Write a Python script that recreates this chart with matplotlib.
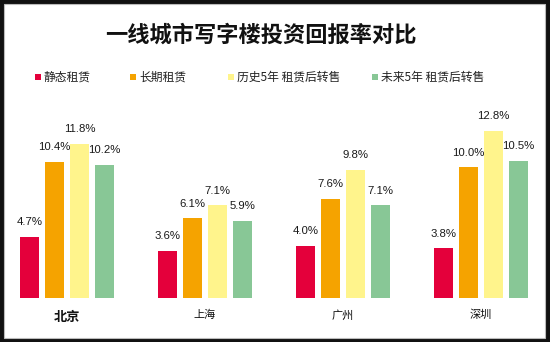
import numpy as np
import matplotlib
matplotlib.use('Agg')
import matplotlib.pyplot as plt
from matplotlib.patches import Rectangle

plt.rcParams['font.family'] = ['Noto Sans CJK SC', 'DejaVu Sans']

cities = ['北京', '上海', '广州', '深圳']
series = ['静态租赁', '长期租赁', '历史5年 租赁后转售', '未来5年 租赁后转售']
static_rent = [4.7, 3.6, 4.0, 3.8]
long_rent = [10.4, 6.1, 7.6, 10.0]
hist_5y = [11.8, 7.1, 9.8, 12.8]
future_5y = [10.2, 5.9, 7.1, 10.5]
values = [static_rent, long_rent, hist_5y, future_5y]
colors = ['#e4003b', '#f5a300', '#fff48c', '#88c796']

# canvas in pixels
W, H = 550, 342
fig = plt.figure(figsize=(W / 100, H / 100), dpi=100)
fig.patch.set_facecolor('#111111')
fig.patches.append(Rectangle((4 / W, 4 / H), 541 / W, 334 / H,
                             transform=fig.transFigure, facecolor='white',
                             edgecolor='#bbbbbb', linewidth=0.8, zorder=-5))

fig.text(261 / W, 1 - 35 / H, '一线城市写字楼投资回报率对比',
         ha='center', va='center', fontsize=16, fontweight='heavy',
         color='#111111')

# legend row
leg_x = [38, 133, 231, 375]
for x, lab, c in zip(leg_x, series, colors):
    fig.patches.append(Rectangle(((x - 3) / W, 1 - 80 / H), 6 / W, 6 / H,
                                 transform=fig.transFigure, facecolor=c,
                                 edgecolor='none'))
    fig.text((x + 6) / W, 1 - 77 / H, lab, ha='left', va='center',
             fontsize=8.5, color='#222222')

# bar area: x from 4 to 545 px, y from 100 to 298 px (from top)
ax = fig.add_axes([4 / W, (H - 298) / H, 541 / W, 198 / H])
ax.set_facecolor('none')
px_per_unit = 138.0
ax.set_xlim((4 - 67) / px_per_unit, (545 - 67) / px_per_unit)
ax.set_ylim(0, 198 / 13.07)

x = np.arange(len(cities))
bw = 19 / px_per_unit
pitch = 24.7 / px_per_unit
for k, (vals, c) in enumerate(zip(values, colors)):
    xs = x + (k - 1.5) * pitch
    ax.bar(xs, vals, width=bw, color=c, edgecolor='none')
    for xi, v in zip(xs, vals):
        ax.annotate('%.1f%%' % v, (xi, v), xytext=(0, 10.5),
                    textcoords='offset points', ha='center', va='center',
                    fontsize=8.2, family='Liberation Sans', color='#1a1a1a')

ax.set_xticks(x)
ax.set_xticklabels(cities)
ax.tick_params(axis='x', length=0, pad=8.5, labelsize=8, colors='#111111')
ax.get_xticklabels()[0].set_fontsize(9.5)
ax.get_xticklabels()[0].set_fontweight('bold')
ax.set_yticks([])
for s in ax.spines.values():
    s.set_visible(False)

fig.savefig('out.png', dpi=100, facecolor=fig.get_facecolor())
